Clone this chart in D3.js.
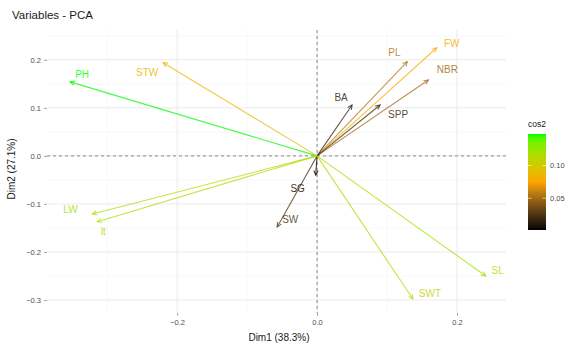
<!DOCTYPE html>
<html>
<head>
<meta charset="utf-8">
<script src="https://cdn.jsdelivr.net/npm/d3@7"></script>
<style>
  body { margin: 0; background: #fff; }
  text { font-family: "Liberation Sans", Arial, sans-serif; }
</style>
</head>
<body>
<div id="chart"></div>
<script>
// variable coordinates on Dim1 / Dim2 and their cos2
const vars = ['PH', 'STW', 'PL', 'FW', 'NBR', 'BA', 'SPP', 'SG', 'SW', 'LW', 'lt', 'SL', 'SWT']
const dim1 = [-0.353, -0.220, 0.129, 0.171, 0.159, 0.050, 0.090, -0.002, -0.057, -0.321, -0.314, 0.241, 0.137]
const dim2 = [0.154, 0.194, 0.196, 0.225, 0.158, 0.106, 0.106, -0.040, -0.148, -0.121, -0.137, -0.250, -0.298]
const cos2 = [0.148, 0.086, 0.055, 0.080, 0.050, 0.014, 0.019, 0.0016, 0.025, 0.118, 0.117, 0.121, 0.108]
const xTicks = [-0.2, 0.0, 0.2]
const yTicks = [-0.3, -0.2, -0.1, 0.0, 0.1, 0.2]
const legendTicks = [0.05, 0.10]

// label offsets (px) from arrow tip, as repelled in the original
const labelShift = {
  PH: [12, -7], STW: [-16, 10], PL: [-13, -9], FW: [15, -4], NBR: [19, -10],
  BA: [-11, -7], SPP: [18, 10], SG: [-18, 13], SW: [13, -7], LW: [-22, -5],
  lt: [6, 10], SL: [12, -6], SWT: [17, -6]
}

const W = 576, H = 348
const svg = d3.select('#chart').append('svg').attr('width', W).attr('height', H)

const x = d3.scaleLinear().domain([-0.386, 0.27]).range([47, 506])
const y = d3.scaleLinear().domain([-0.327, 0.262]).range([313, 30])

const cMin = d3.min(cos2), cMax = d3.max(cos2)
const color = d3.scaleLinear()
  .domain([cMin, (cMin + cMax) / 2, cMax])
  .range(['black', 'orange', '#00ff00'])
  .interpolate(d3.interpolateLab)

// grid
const g = svg.append('g')
const xMinor = [-0.3, -0.1, 0.1]
const yMinor = [-0.25, -0.15, -0.05, 0.05, 0.15, 0.25]
g.selectAll('.xmin').data(xMinor).enter().append('line')
  .attr('x1', d => x(d)).attr('x2', d => x(d)).attr('y1', 30).attr('y2', 313)
  .attr('stroke', '#f2f2f2').attr('stroke-width', 0.5)
g.selectAll('.ymin').data(yMinor).enter().append('line')
  .attr('y1', d => y(d)).attr('y2', d => y(d)).attr('x1', 47).attr('x2', 506)
  .attr('stroke', '#f2f2f2').attr('stroke-width', 0.5)
g.selectAll('.xmaj').data(xTicks).enter().append('line')
  .attr('x1', d => x(d)).attr('x2', d => x(d)).attr('y1', 30).attr('y2', 313)
  .attr('stroke', '#ebebeb').attr('stroke-width', 1)
g.selectAll('.ymaj').data(yTicks).enter().append('line')
  .attr('y1', d => y(d)).attr('y2', d => y(d)).attr('x1', 47).attr('x2', 506)
  .attr('stroke', '#ebebeb').attr('stroke-width', 1)

// axes
const xAxis = svg.append('g').attr('transform', 'translate(0,313)')
  .call(d3.axisBottom(x).tickValues(xTicks).tickFormat(d3.format('.1f')).tickSize(3).tickPadding(4))
const yAxis = svg.append('g').attr('transform', 'translate(47,0)')
  .call(d3.axisLeft(y).tickValues(yTicks).tickFormat(d3.format('.1f')).tickSize(3).tickPadding(3))
for (const a of [xAxis, yAxis]) {
  a.select('.domain').remove()
  a.selectAll('line').attr('stroke', '#666').attr('stroke-width', 0.6)
  a.selectAll('text').attr('fill', '#4d4d4d').style('font-size', '7.5px')
}

// dashed reference lines
svg.append('line').attr('x1', 47).attr('x2', 506).attr('y1', y(0)).attr('y2', y(0))
  .attr('stroke', '#444').attr('stroke-width', 0.6).attr('stroke-dasharray', '3,3')
svg.append('line').attr('x1', x(0)).attr('x2', x(0)).attr('y1', 30).attr('y2', 313)
  .attr('stroke', '#444').attr('stroke-width', 0.6).attr('stroke-dasharray', '3,3')

// arrows
const data = vars.map((v, i) => ({ name: v, x: dim1[i], y: dim2[i], c: cos2[i] }))
const arrows = svg.append('g')
data.forEach(d => {
  const col = color(d.c)
  const x0 = x(0), y0 = y(0), x1 = x(d.x), y1 = y(d.y)
  arrows.append('line').attr('x1', x0).attr('y1', y0).attr('x2', x1).attr('y2', y1)
    .attr('stroke', col).attr('stroke-width', 1.1).attr('stroke-opacity', 0.75)
  const ang = Math.atan2(y1 - y0, x1 - x0), L = 5, spread = 0.45
  const p1 = [x1 - L * Math.cos(ang - spread), y1 - L * Math.sin(ang - spread)]
  const p2 = [x1 - L * Math.cos(ang + spread), y1 - L * Math.sin(ang + spread)]
  arrows.append('path')
    .attr('d', `M${p1[0]},${p1[1]}L${x1},${y1}L${p2[0]},${p2[1]}`)
    .attr('fill', 'none').attr('stroke', col).attr('stroke-width', 1.1).attr('stroke-opacity', 0.75)
  const s = labelShift[d.name]
  arrows.append('text').attr('x', x1 + s[0]).attr('y', y1 + s[1])
    .attr('text-anchor', 'middle').attr('dominant-baseline', 'central')
    .attr('fill', col).attr('fill-opacity', 0.85).style('font-size', '10px').text(d.name)
})

// titles
svg.append('text').attr('x', 12).attr('y', 19).attr('fill', '#1a1a1a')
  .style('font-size', '11.5px').text('Variables - PCA')
svg.append('text').attr('x', 279).attr('y', 341).attr('text-anchor', 'middle')
  .attr('fill', '#1a1a1a').style('font-size', '10px').text('Dim1 (38.3%)')
svg.append('text').attr('transform', 'translate(15,169) rotate(-90)')
  .attr('text-anchor', 'middle').attr('fill', '#1a1a1a').style('font-size', '10px')
  .text('Dim2 (27.1%)')

// colour bar legend
const lg = svg.append('g')
const barTop = 134, barBot = 230, barX = 528, barW = 18
const ly = d3.scaleLinear().domain([cMin, cMax]).range([barBot, barTop])
const grad = svg.append('defs').append('linearGradient').attr('id', 'cg')
  .attr('x1', 0).attr('x2', 0).attr('y1', 1).attr('y2', 0)
d3.range(0, 1.0001, 0.05).forEach(t => {
  grad.append('stop').attr('offset', t).attr('stop-color', color(cMin + t * (cMax - cMin)))
})
lg.append('rect').attr('x', barX).attr('y', barTop).attr('width', barW)
  .attr('height', barBot - barTop).attr('fill', 'url(#cg)')
lg.selectAll('.lt').data(legendTicks).enter().append('line')
  .attr('x1', barX).attr('x2', barX + 3.5).attr('y1', d => ly(d)).attr('y2', d => ly(d))
  .attr('stroke', '#fff').attr('stroke-width', 0.6)
lg.selectAll('.lt2').data(legendTicks).enter().append('line')
  .attr('x1', barX + barW - 3.5).attr('x2', barX + barW).attr('y1', d => ly(d)).attr('y2', d => ly(d))
  .attr('stroke', '#fff').attr('stroke-width', 0.6)
lg.selectAll('.ll').data(legendTicks).enter().append('text')
  .attr('x', barX + barW + 4).attr('y', d => ly(d)).attr('dominant-baseline', 'central')
  .attr('fill', '#4d4d4d').style('font-size', '7.5px').text(d => d3.format('.2f')(d))
lg.append('text').attr('x', barX).attr('y', 127).attr('fill', '#1a1a1a')
  .style('font-size', '8.5px').text('cos2')
</script>
</body>
</html>
